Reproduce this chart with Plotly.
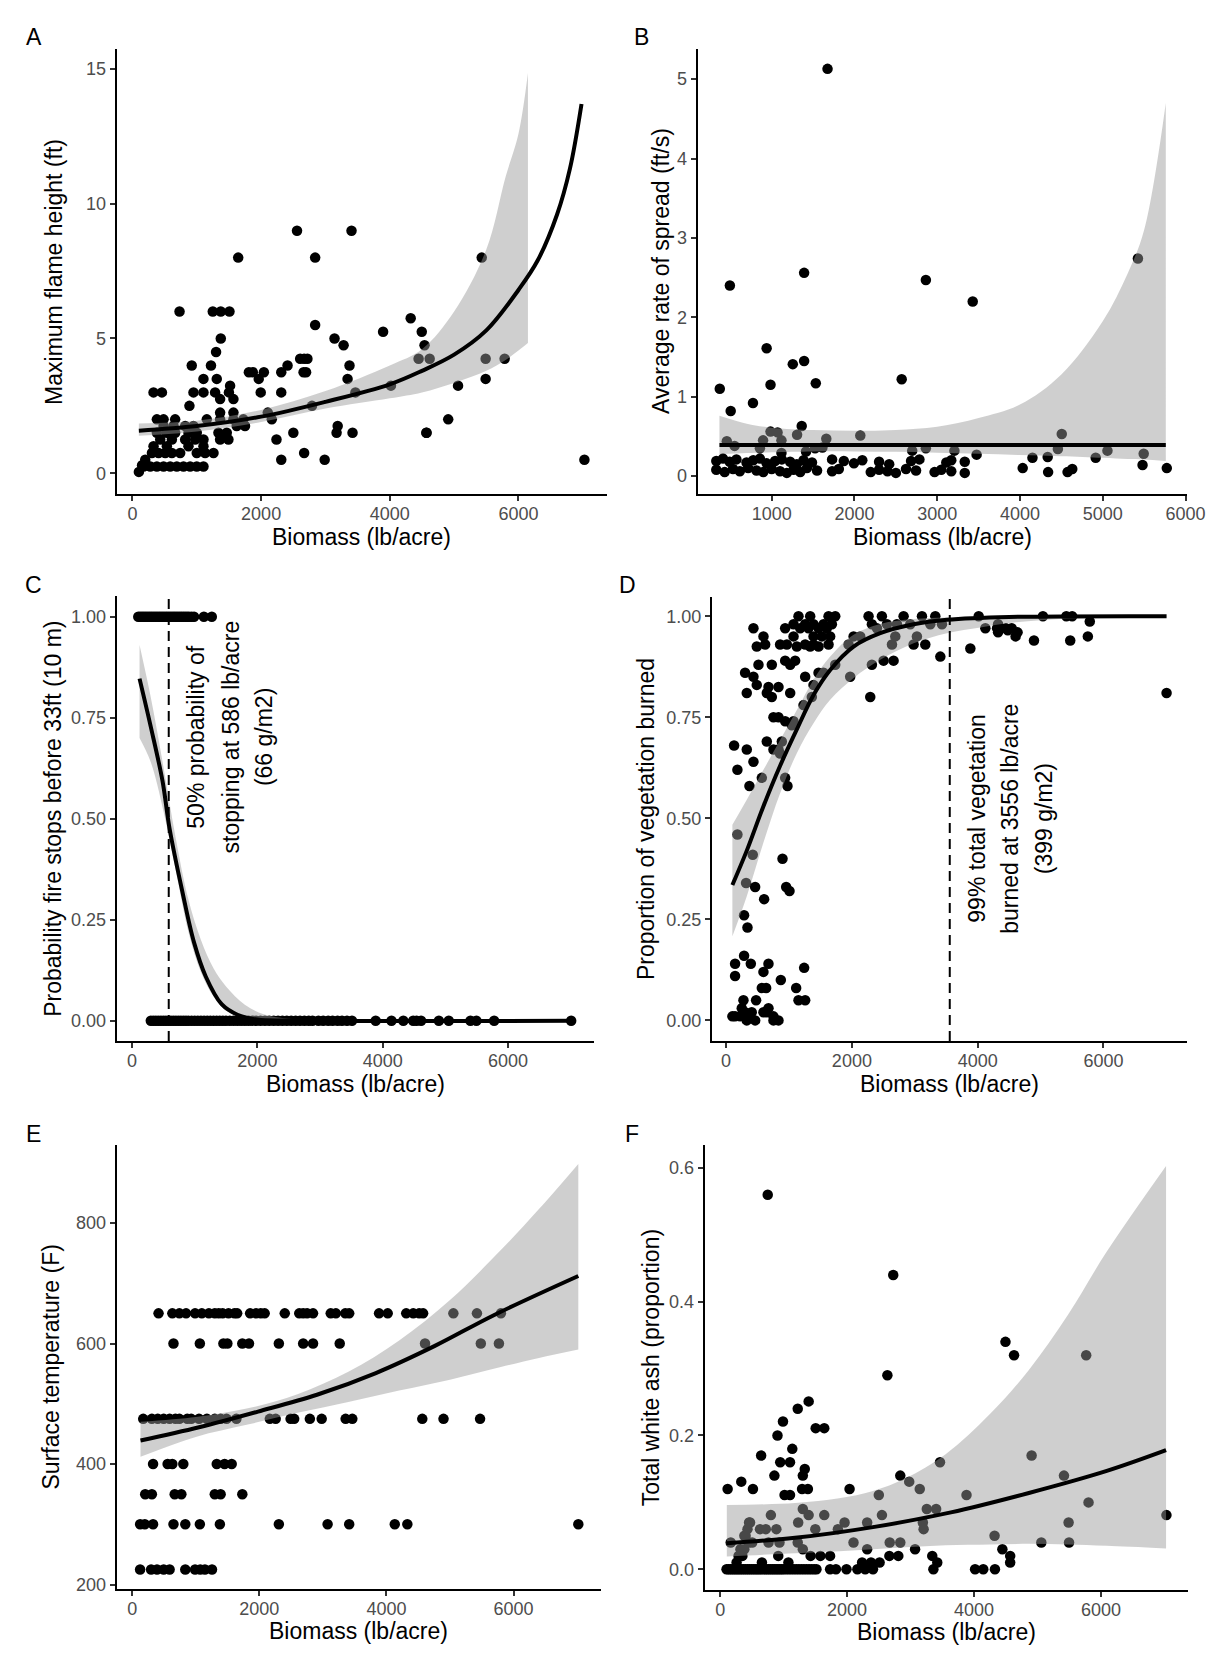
import plotly.graph_objects as go

W, H = 1212, 1667
FONT = "Liberation Sans, Arial, sans-serif"

# ---------------- Panel A: maximum flame height ----------------
A_biomass = [
    100, 150, 199,
    173, 277, 380, 484, 587, 690, 794, 897, 1000, 1104,
    303, 406, 510, 613, 742, 1000, 1130, 1260,
    328, 535, 871, 1104,
    432, 613, 820, 975, 1104, 1363, 1492,
    380, 535, 664, 871, 1000, 1337, 1466, 2501, 3173, 3421, 4569,
    484, 639, 820, 949, 1621, 1750, 3190,
    380, 484, 664, 1156, 1363, 1570, 1725, 2166,
    2104, 1570, 1363,
    886, 2791,
    1570, 1363,
    328, 458, 949, 1104, 1285, 1994, 2313, 3466, 1500,
    4018, 5061, 1518,
    1104, 1311, 3344, 1963, 5490,
    1810, 1871, 2043, 2313, 2699, 2660,
    922, 1221, 2411, 3374,
    2607, 2669, 2720, 4448, 4620, 5490, 5785,
    1300, 4540, 3282, 3141, 1373, 3896, 4497, 2840, 4325,
    732, 1249, 1373, 1508,
    1644, 2840, 5429, 2558, 3405,
    2988, 2313, 7025, 2669, 2239, 4908, 4571,
]
A_flame = [
    0.05, 0.3, 0.5,
    0.25, 0.25, 0.25, 0.25, 0.25, 0.25, 0.25, 0.25, 0.25, 0.25,
    0.75, 0.75, 0.75, 0.75, 0.75, 0.75, 0.75, 0.75,
    1.0, 1.0, 1.0, 1.0,
    1.25, 1.25, 1.25, 1.25, 1.25, 1.25, 1.25,
    1.5, 1.5, 1.5, 1.5, 1.5, 1.5, 1.5, 1.5, 1.5, 1.5, 1.5,
    1.75, 1.75, 1.75, 1.75, 1.75, 1.75, 1.75,
    2.0, 2.0, 2.0, 2.0, 2.0, 2.0, 2.0, 2.0,
    2.25, 2.25, 2.25,
    2.5, 2.5,
    2.75, 2.75,
    3.0, 3.0, 3.0, 3.0, 3.0, 3.0, 3.0, 3.0, 3.0,
    3.25, 3.25, 3.25,
    3.5, 3.5, 3.5, 3.5, 3.5,
    3.75, 3.75, 3.75, 3.75, 3.75, 3.75,
    4.0, 4.0, 4.0, 4.0,
    4.25, 4.25, 4.25, 4.25, 4.25, 4.25, 4.25,
    4.5, 4.75, 4.75, 5.0, 5.0, 5.25, 5.25, 5.5, 5.75,
    6.0, 6.0, 6.0, 6.0,
    8.0, 8.0, 8.0, 9.0, 9.0,
    0.5, 0.5, 0.5, 0.75, 1.25, 2.0, 1.5,
]
A_fit_x = [100, 1000, 2000, 3000, 4000, 4500, 5000, 5500, 6000, 6300, 6600, 6800, 6980]
A_fit_y = [1.58, 1.75, 2.1, 2.65, 3.3, 3.8, 4.4, 5.3, 6.8, 7.9, 9.6, 11.3, 13.7]
A_band_x = [100, 1000, 2000, 3000, 4000, 4500, 5000, 5500, 5800, 6000, 6147]
A_band_hi = [1.85, 1.95, 2.35, 3.05, 4.0, 4.6, 6.0, 8.3, 11.0, 12.6, 14.85]
A_band_lo = [1.39, 1.55, 1.9, 2.4, 2.78, 3.0, 3.35, 3.8, 4.2, 4.55, 4.83]

# ---------------- Panel B: average rate of spread ----------------
B_biomass = [
    1675, 495, 1392, 2863, 3429, 5425, 939, 1255, 1392, 986, 1533, 2571, 373, 774, 505, 1363,
    458, 552, 986, 1071, 896, 1118, 1307, 1660, 2071, 4505, 1415, 1524, 1613, 2698, 2863,
    3208, 4458, 5057, 5495, 3476, 1118, 858, 4915, 4151, 4335,
    331, 412, 493, 574, 696, 777, 858, 939, 1041, 1122, 1223, 1304, 1385, 1487, 1730, 1872,
    1994, 2095, 2298, 2420, 2684, 2785, 3110, 3170, 3333,
    331, 432, 533, 615, 716, 817, 899, 1000, 1101, 1183, 1264, 1345, 1426, 1548, 1730, 1811,
    2197, 2298, 2400, 2501, 2623, 2744, 2968, 3049, 3170, 3333,
    4033, 4340, 4575, 4632, 5481, 5774,
]
B_spread = [
    5.13, 2.40, 2.56, 2.47, 2.20, 2.74, 1.61, 1.41, 1.45, 1.15, 1.17, 1.22, 1.10, 0.92, 0.82, 0.63,
    0.44, 0.38, 0.56, 0.55, 0.45, 0.45, 0.52, 0.47, 0.51, 0.53, 0.31, 0.35, 0.36, 0.32, 0.35,
    0.32, 0.34, 0.32, 0.28, 0.27, 0.29, 0.35, 0.23, 0.23, 0.24,
    0.19, 0.22, 0.18, 0.21, 0.17, 0.20, 0.22, 0.16, 0.19, 0.21, 0.18, 0.15, 0.20, 0.17, 0.21, 0.19,
    0.16, 0.20, 0.18, 0.15, 0.19, 0.21, 0.17, 0.20, 0.18,
    0.08, 0.05, 0.09, 0.06, 0.10, 0.07, 0.05, 0.09, 0.06, 0.04, 0.08, 0.05, 0.10, 0.07, 0.06, 0.09,
    0.05, 0.08, 0.06, 0.04, 0.09, 0.07, 0.05, 0.08, 0.06, 0.04,
    0.10, 0.05, 0.05, 0.09, 0.14, 0.10,
]
B_fit_x = [369, 5762]
B_fit_y = [0.39, 0.39]
B_band_x = [369, 700, 1000, 1500, 2000, 2500, 3000, 3500, 4000, 4500, 5000, 5300, 5500, 5762]
B_band_hi = [0.76, 0.66, 0.61, 0.58, 0.57, 0.58, 0.62, 0.73, 0.90, 1.28, 1.95, 2.55, 3.1, 4.7]
B_band_lo = [0.275, 0.29, 0.30, 0.31, 0.31, 0.305, 0.295, 0.28, 0.265, 0.25, 0.23, 0.215, 0.21, 0.19]

# ---------------- Panel C: probability fire stops ----------------
C_biomass_stopped = [100, 130, 160, 190, 220, 250, 280, 310, 340, 370, 400, 430, 460, 490, 520,
                     550, 580, 610, 640, 670, 700, 730, 760, 790, 820, 850, 880, 910, 950, 990,
                     1147, 1273]
C_biomass_continued = [300, 340, 380, 420, 460, 500, 540, 580, 620, 660, 700, 740, 780, 820, 860,
                       900, 950, 1000, 1050, 1100, 1150, 1200, 1250, 1300, 1350, 1400, 1450, 1500,
                       1560, 1620, 1680, 1740, 1800, 1860, 1920, 1980, 2050, 2120, 2190, 2260, 2330,
                       2400, 2470, 2540, 2610, 2680, 2750, 2820, 2880, 2974, 3050, 3130, 3200, 3280,
                       3350, 3430, 3510, 3888, 4140, 4329, 4486, 4540, 4612, 4896, 5054, 5400, 5495,
                       5778, 7007]
C_fit_x = [120, 296, 485, 599, 800, 989, 1178, 1430, 1682, 1997, 2500, 7030]
C_fit_y = [0.847, 0.73, 0.595, 0.476, 0.322, 0.194, 0.109, 0.041, 0.015, 0.003, 0.0005, 0.0]
C_band_x = [120, 300, 500, 700, 900, 1100, 1300, 1500, 1800, 2100, 2500, 3000, 7030]
C_band_hi = [0.93, 0.80, 0.63, 0.45, 0.30, 0.20, 0.13, 0.085, 0.04, 0.016, 0.005, 0.001, 0.0]
C_band_lo = [0.70, 0.64, 0.52, 0.37, 0.22, 0.12, 0.06, 0.025, 0.006, 0.001, 0.0, 0.0, 0.0]
C_half_biomass = 586

# ---------------- Panel D: proportion of vegetation burned ----------------
D_biomass = [
    1151, 1337, 1629, 1735, 2265, 2477, 2822, 3114, 3326, 4016, 5037, 5409, 5502,
    1072, 1257, 1390, 1549, 1682, 2318, 2557, 2716, 2928, 3432, 3247, 4324,
    435, 939, 1178, 1310, 1470, 1602, 2398, 4122, 4308, 4448, 4541,
    594, 1072, 1390, 1523, 1655, 2027, 2133, 2690, 3034, 4603, 5751,
    621, 859, 966, 1257, 1390, 1629, 1947, 2637, 2981, 3167,
    488, 1125, 1337, 1470, 3883,
    4324, 4479, 4634, 4895, 5471, 5782, 7003, 3406,
    939, 1098, 2504, 2663,
    515, 727, 1019, 1735, 2318,
    302, 1549, 1470,
    435, 1257, 1973,
    488, 1390, 833, 674,
    329, 647, 1019,
    727, 1363, 2292,
    1231, 753, 833, 939, 1072, 1045,
    647, 886, 127, 329, 753, 833, 859, 435, 180,
    568, 939, 371, 976,
    180, 424, 897, 318, 462, 955, 1008, 605, 286, 340,
    286, 143, 393, 674, 1241, 594, 143, 870,
    568, 637, 1114, 276, 477, 1151, 1257,
    249, 674, 302, 408, 594, 647,
    100, 143, 223, 355, 753, 329, 462, 753, 833,
]
D_burned = [
    1.0, 1.0, 1.0, 1.0, 1.0, 1.0, 1.0, 1.0, 1.0, 1.0, 1.0, 1.0, 1.0,
    0.98, 0.98, 0.98, 0.98, 0.98, 0.98, 0.98, 0.98, 0.98, 0.98, 0.98, 0.98,
    0.97, 0.97, 0.97, 0.97, 0.97, 0.97, 0.97, 0.97, 0.97, 0.97, 0.97,
    0.95, 0.95, 0.95, 0.95, 0.95, 0.95, 0.95, 0.95, 0.95, 0.95, 0.95,
    0.93, 0.93, 0.93, 0.93, 0.93, 0.93, 0.93, 0.93, 0.93, 0.93,
    0.925, 0.925, 0.925, 0.925, 0.92,
    0.96, 0.965, 0.96, 0.94, 0.94, 0.987, 0.81, 0.90,
    0.89, 0.89, 0.89, 0.89,
    0.88, 0.88, 0.88, 0.88, 0.88,
    0.86, 0.86, 0.86,
    0.85, 0.85, 0.85,
    0.83, 0.83, 0.825, 0.825,
    0.81, 0.81, 0.81,
    0.80, 0.80, 0.80,
    0.78, 0.75, 0.75, 0.74, 0.74, 0.73,
    0.69, 0.69, 0.68, 0.67, 0.67, 0.67, 0.66, 0.64, 0.62,
    0.60, 0.60, 0.58, 0.58,
    0.46, 0.41, 0.40, 0.34, 0.33, 0.33, 0.32, 0.30, 0.26, 0.23,
    0.16, 0.14, 0.14, 0.14, 0.13, 0.12, 0.11, 0.10,
    0.08, 0.08, 0.08, 0.05, 0.05, 0.05, 0.05,
    0.03, 0.03, 0.02, 0.02, 0.02, 0.02,
    0.01, 0.01, 0.01, 0.01, 0.01, 0.0, 0.0, 0.0, 0.0,
]
D_fit_x = [100, 329, 594, 859, 1125, 1390, 1655, 2027, 2451, 2981, 3512, 4500, 7003]
D_fit_y = [0.335, 0.42, 0.53, 0.63, 0.72, 0.805, 0.867, 0.925, 0.958, 0.98, 0.991, 0.998, 1.0]
D_band_x = [100, 329, 594, 859, 1125, 1390, 1655, 2027, 2451, 2981, 3512, 4042, 4500, 5000, 5800, 7003]
D_band_hi = [0.484, 0.546, 0.62, 0.694, 0.768, 0.843, 0.90, 0.954, 0.981, 0.993, 0.997, 0.999, 1.0, 1.0, 1.0, 1.0]
D_band_lo = [0.208, 0.307, 0.44, 0.562, 0.661, 0.735, 0.793, 0.847, 0.892, 0.933, 0.958, 0.972, 0.983, 0.99, 0.996, 0.999]
D_total_biomass = 3556

# ---------------- Panel E: surface temperature ----------------
E_biomass_650 = [414, 631, 742, 847, 989, 1095, 1206, 1299, 1361, 1422, 1515, 1608, 1651, 1855, 1948,
                 2022, 2084, 2400, 2628, 2690, 2752, 2845, 3123, 3204, 3352, 3414, 3884, 4020, 4311,
                 4422, 4515, 4577, 5053, 5424, 5801]
E_biomass_600 = [649, 1064, 1435, 1497, 1732, 1837, 2307, 2690, 2845, 3265, 4607, 5485, 5770]
E_biomass_475 = [173, 309, 402, 495, 588, 680, 742, 866, 928, 1051, 1175, 1299, 1391, 1484, 1639,
                 2165, 2257, 2492, 2548, 2795, 2981, 3358, 3463, 4564, 4898, 5473]
E_biomass_400 = [328, 557, 631, 804, 1330, 1453, 1565]
E_biomass_350 = [204, 309, 668, 773, 1299, 1391, 1732]
E_biomass_300 = [124, 198, 328, 649, 835, 1064, 1379, 2307, 3074, 3414, 4131, 4329, 7019]
E_biomass_225 = [124, 297, 390, 495, 588, 835, 989, 1070, 1144, 1255]
E_fit_x = [130, 1051, 1979, 2907, 3834, 4762, 5689, 7019]
E_fit_y = [439, 461, 487, 515, 551, 596, 647, 712]
E_band_x = [130, 1000, 1800, 2600, 3400, 4200, 5000, 5800, 6400, 7019]
E_band_hi = [470, 478, 492, 516, 553, 605, 672, 755, 823, 898]
E_band_lo = [412, 445, 465, 485, 503, 522, 540, 561, 576, 590]

# ---------------- Panel F: total white ash ----------------
F_biomass = [
    749, 2727, 2635, 4496, 4631, 5768, 1394, 1222, 989, 903, 1505, 1640,
    645, 1136, 946, 1100, 1333, 1302, 854, 332, 117, 516, 2039, 1290,
    1382, 1014, 1100, 2838, 2979, 3145, 3464, 4908, 5418, 3882, 2500, 5805, 7033,
    1302, 1394, 799, 1640, 2549, 3256, 3403,
    455, 627, 719, 885, 1229, 1960, 2316, 3194, 3206, 5491,
    381, 1499, 1855, 4324,
    166, 504, 762, 934, 1222, 2101, 2672, 2838, 5061, 5498,
    319, 1302, 2316, 3071, 4447,
    289, 915, 1425, 1579, 1732, 2666, 2807, 3342, 4570,
    258, 657, 1075, 2236, 2377, 3421, 4570, 2512,
    400, 430, 470, 380, 350, 450,
]
F_ash = [
    0.56, 0.44, 0.29, 0.34, 0.32, 0.32, 0.251, 0.24, 0.221, 0.20, 0.211, 0.211,
    0.17, 0.18, 0.16, 0.16, 0.15, 0.14, 0.14, 0.131, 0.12, 0.12, 0.12, 0.12,
    0.12, 0.111, 0.111, 0.14, 0.131, 0.12, 0.16, 0.17, 0.14, 0.111, 0.111, 0.10, 0.081,
    0.09, 0.081, 0.081, 0.081, 0.081, 0.09, 0.09,
    0.07, 0.06, 0.06, 0.06, 0.07, 0.07, 0.07, 0.07, 0.06, 0.07,
    0.05, 0.06, 0.06, 0.05,
    0.04, 0.04, 0.04, 0.04, 0.04, 0.04, 0.04, 0.04, 0.04, 0.04,
    0.03, 0.03, 0.03, 0.03, 0.03,
    0.02, 0.02, 0.02, 0.02, 0.02, 0.02, 0.02, 0.02, 0.02,
    0.01, 0.01, 0.01, 0.01, 0.01, 0.01, 0.01, 0.01,
    0.05, 0.06, 0.07, 0.03, 0.02, 0.04,
]
F_biomass_zero = [100, 130, 160, 190, 220, 250, 280, 310, 340, 370, 400, 430, 460, 490, 520, 550,
                  580, 610, 640, 670, 700, 730, 760, 790, 820, 850, 880, 910, 940, 970, 1000, 1040,
                  1080, 1120, 1160, 1200, 1240, 1280, 1320, 1360, 1400, 1440, 1480, 1517, 1732, 1824,
                  1990, 2162, 2285, 2408, 3360, 4017, 4146, 4330]
F_fit_x = [104, 1179, 2408, 3636, 4865, 6093, 7027]
F_fit_y = [0.039, 0.047, 0.063, 0.085, 0.114, 0.147, 0.178]
F_band_x = [104, 1179, 1874, 2408, 2923, 3553, 4251, 4865, 5479, 6093, 7027]
F_band_hi = [0.096, 0.099, 0.106, 0.117, 0.136, 0.172, 0.232, 0.298, 0.38, 0.475, 0.603]
F_band_lo = [0.019, 0.024, 0.027, 0.030, 0.033, 0.036, 0.037, 0.038, 0.037, 0.035, 0.031]

# ---------------- tick labels ----------------
X_TICKS = [0, 2000, 4000, 6000]
B_X_TICKS = [1000, 2000, 3000, 4000, 5000, 6000]
A_Y_TICKS = [0, 5, 10, 15]
B_Y_TICKS = [0, 1, 2, 3, 4, 5]
P_Y_TICKS = [0, 0.25, 0.5, 0.75, 1.0]
P_Y_LABELS = ["0.00", "0.25", "0.50", "0.75", "1.00"]
E_Y_TICKS = [200, 400, 600, 800]
F_Y_TICKS = [0, 0.2, 0.4, 0.6]
F_Y_LABELS = ["0.0", "0.2", "0.4", "0.6"]

# ---------------- build ----------------
E_biomass = (E_biomass_650 + E_biomass_600 + E_biomass_475 + E_biomass_400
             + E_biomass_350 + E_biomass_300 + E_biomass_225)
E_temp = ([650] * len(E_biomass_650) + [600] * len(E_biomass_600) + [475] * len(E_biomass_475)
          + [400] * len(E_biomass_400) + [350] * len(E_biomass_350) + [300] * len(E_biomass_300)
          + [225] * len(E_biomass_225))
C_biomass = C_biomass_stopped + C_biomass_continued
C_stop = [1] * len(C_biomass_stopped) + [0] * len(C_biomass_continued)
F_x_all = F_biomass + F_biomass_zero
F_y_all = F_ash + [0.0] * len(F_biomass_zero)

fig = go.Figure()


def add_panel(k, px_, py_, bx, blo, bhi, fx, fy):
    xa = 'x' if k == 1 else 'x%d' % k
    ya = 'y' if k == 1 else 'y%d' % k
    fig.add_trace(go.Scatter(x=px_, y=py_, mode='markers', xaxis=xa, yaxis=ya,
                             marker=dict(color='black', size=10.5, line=dict(width=0)),
                             hoverinfo='skip'))
    fig.add_trace(go.Scatter(x=bx, y=blo, mode='lines', xaxis=xa, yaxis=ya,
                             line=dict(width=0, shape='spline', color='rgba(0,0,0,0)'),
                             hoverinfo='skip'))
    fig.add_trace(go.Scatter(x=bx, y=bhi, mode='lines', xaxis=xa, yaxis=ya,
                             line=dict(width=0, shape='spline', color='rgba(0,0,0,0)'),
                             fill='tonexty', fillcolor='rgba(153,153,153,0.47)',
                             hoverinfo='skip'))
    fig.add_trace(go.Scatter(x=fx, y=fy, mode='lines', xaxis=xa, yaxis=ya,
                             line=dict(color='black', width=4, shape='spline'),
                             hoverinfo='skip'))


add_panel(1, A_biomass, A_flame, A_band_x, A_band_lo, A_band_hi, A_fit_x, A_fit_y)
add_panel(2, B_biomass, B_spread, B_band_x, B_band_lo, B_band_hi, B_fit_x, B_fit_y)
add_panel(3, C_biomass, C_stop, C_band_x, C_band_lo, C_band_hi, C_fit_x, C_fit_y)
add_panel(4, D_biomass, D_burned, D_band_x, D_band_lo, D_band_hi, D_fit_x, D_fit_y)
add_panel(5, E_biomass, E_temp, E_band_x, E_band_lo, E_band_hi, E_fit_x, E_fit_y)
add_panel(6, F_x_all, F_y_all, F_band_x, F_band_lo, F_band_hi, F_fit_x, F_fit_y)

# panel pixel boxes: left, right, top, bottom
boxes = {
    1: (116.6, 607.0, 49.0, 494.0),
    2: (697.6, 1187.4, 49.0, 494.0),
    3: (116.6, 594.3, 596.2, 1041.0),
    4: (712.0, 1187.4, 597.2, 1041.0),
    5: (116.6, 601.0, 1145.2, 1589.0),
    6: (704.6, 1188.2, 1145.2, 1590.0),
}
xranges = {1: [-246, 7376], 2: [105, 6023], 3: [-246, 7376], 4: [-224, 7334],
           5: [-246, 7376], 6: [-246, 7376]}
yranges = {1: [-0.77, 15.74], 2: [-0.226, 5.38], 3: [-0.05, 1.051], 4: [-0.051, 1.047],
           5: [192.7, 929], 6: [-0.031, 0.634]}
xticks = {1: (X_TICKS, None), 2: (B_X_TICKS, None), 3: (X_TICKS, None), 4: (X_TICKS, None),
          5: (X_TICKS, None), 6: (X_TICKS, None)}
yticks = {1: (A_Y_TICKS, None), 2: (B_Y_TICKS, None), 3: (P_Y_TICKS, P_Y_LABELS),
          4: (P_Y_TICKS, P_Y_LABELS), 5: (E_Y_TICKS, None), 6: (F_Y_TICKS, F_Y_LABELS)}

common = dict(showgrid=False, zeroline=False, showline=True, linecolor='black', linewidth=2,
              ticks='outside', ticklen=5, tickwidth=2, tickcolor='#333333', automargin=False,
              tickfont=dict(size=18, color='#4D4D4D', family=FONT), fixedrange=True)

layout = {}
for k, (l, r, t, b) in boxes.items():
    xn = 'xaxis' if k == 1 else 'xaxis%d' % k
    yn = 'yaxis' if k == 1 else 'yaxis%d' % k
    xid = 'x' if k == 1 else 'x%d' % k
    yid = 'y' if k == 1 else 'y%d' % k
    xv, xt = xticks[k]
    yv, yt = yticks[k]
    xa = dict(common, domain=[l / W, r / W], range=xranges[k], anchor=yid, tickvals=xv)
    ya = dict(common, domain=[1 - b / H, 1 - t / H], range=yranges[k], anchor=xid, tickvals=yv)
    if xt:
        xa['ticktext'] = xt
    if yt:
        ya['ticktext'] = yt
    layout[xn] = xa
    layout[yn] = ya

fig.update_layout(template='none')
fig.update_layout(**layout)
try:
    fig.update_xaxes(ticklabelstandoff=-3)
except Exception:
    pass

ann = []


def text(x, y, s, size=23, angle=0, color='black'):
    ann.append(dict(x=x / W, y=1 - y / H, xref='paper', yref='paper', text=s, showarrow=False,
                    xanchor='center', yanchor='middle', textangle=angle,
                    font=dict(size=size, color=color, family=FONT)))


# panel letters
for s, x, y in [("A", 33.6, 37.5), ("B", 641, 37.5), ("C", 33.6, 584.8), ("D", 627.3, 584.8),
                ("E", 33.6, 1134.4), ("F", 632, 1134.4)]:
    text(x, y, s)

# axis titles
XT = "Biomass (lb/acre)"
for x, y in [(361.8, 536.5), (942.5, 536.5), (355.5, 1084), (949.7, 1084), (358.8, 1631),
             (946.4, 1632)]:
    text(x, y, XT)
for s, x, y in [("Maximum flame height (ft)", 53.4, 271.5),
                ("Average rate of spread (ft/s)", 660.5, 271.5),
                ("Probability fire stops before 33ft (10 m)", 52.2, 818.6),
                ("Proportion of vegetation burned", 646, 819.1),
                ("Surface temperature (F)", 51.4, 1367.1),
                ("Total white ash (proportion)", 650.7, 1367.6)]:
    text(x, y, s, angle=-90)

# in-plot notes
for s, x in [("50% probability of", 195.7), ("stopping at 586 lb/acre", 230.5), ("(66 g/m2)", 264.1)]:
    text(x, 737, s, angle=-90)
for s, x in [("99% total vegetation", 976.7), ("burned at 3556 lb/acre", 1009.8), ("(399 g/m2)", 1044.2)]:
    text(x, 819, s, angle=-90)

shapes = [
    dict(type='line', xref='x3', yref='y3 domain', x0=C_half_biomass, x1=C_half_biomass, y0=0, y1=1,
         line=dict(color='black', width=2, dash='10px,6px'), layer='above'),
    dict(type='line', xref='x4', yref='y4 domain', x0=D_total_biomass, x1=D_total_biomass, y0=0, y1=1,
         line=dict(color='black', width=2, dash='10px,6px'), layer='above'),
]

fig.update_layout(width=W, height=H, autosize=False, margin=dict(l=0, r=0, t=0, b=0, pad=0),
                  showlegend=False, paper_bgcolor='white', plot_bgcolor='white',
                  annotations=ann, shapes=shapes, font=dict(family=FONT), hovermode=False)

fig.write_html("out.html", config={'displayModeBar': False, 'responsive': False})
